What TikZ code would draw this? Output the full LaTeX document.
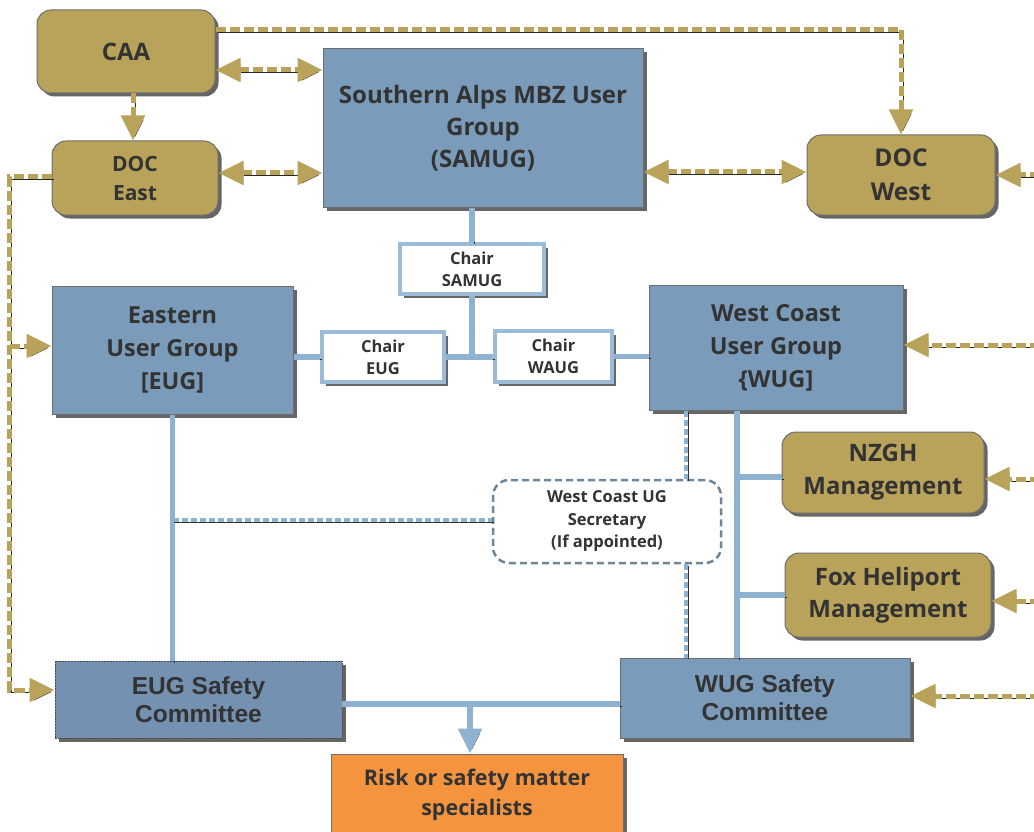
\documentclass[tikz,border=0pt]{standalone}
\usepackage{fontspec}
\setmainfont{Open Sans}
\newfontfamily\arialfont{Liberation Sans}
\usetikzlibrary{arrows.meta,shadows,calc}
\definecolor{gold}{HTML}{B9A25A}
\definecolor{boxblue}{HTML}{7A9BB9}
\definecolor{boxblueb}{HTML}{7591B1}
\definecolor{bline}{HTML}{8EB2CF}
\definecolor{chairb}{HTML}{9BBBD8}
\definecolor{txt}{HTML}{333333}
\definecolor{orangebox}{HTML}{F4943F}
\definecolor{secb}{HTML}{6F8698}
\definecolor{edgegray}{HTML}{6E6E6E}
\begin{document}
\begin{tikzpicture}[x=1pt,y=-1pt,
  boxshadow/.style={drop shadow={shadow xshift=3.5pt,shadow yshift=-3.5pt,opacity=.6,fill=black}},
  fs/.style 2 args={font=\bfseries\fontsize{#1}{#2}\selectfont},
  afs/.style 2 args={font=\arialfont\bfseries\fontsize{#1}{#2}\selectfont},
  goldbox/.style={draw=edgegray,line width=1pt,fill=gold,rounded corners=14pt,boxshadow,text=txt,align=center,inner sep=0pt},
  bluebox/.style={draw=edgegray,line width=1pt,fill=boxblue,boxshadow,text=txt,align=center,inner sep=0pt},
  chairbox/.style={draw=chairb,line width=4.5pt,fill=white,boxshadow,text=txt,align=center,inner sep=0pt},
  secbox/.style={draw=secb,line width=2.5pt,dash pattern=on 7pt off 4pt,rounded corners=16pt,fill=white,text=txt,align=center,inner sep=0pt},
  eugscbox/.style={draw=black!70,line width=0.8pt,dash pattern=on 2pt off 1pt,fill=boxblueb,boxshadow,text=txt,align=center,inner sep=0pt},
  riskbox/.style={draw=edgegray,line width=1pt,fill=orangebox,boxshadow,text=txt,align=center,inner sep=0pt},
  goldline/.style={draw=gold,line width=5pt,dash pattern=on 10pt off 4pt,
    preaction={draw=black!85,transform canvas={xshift=2pt,yshift=-2pt}}},
  goldarrow/.style={goldline,-{Triangle[length=25pt,width=23pt]}},
  golddouble/.style={goldline,{Triangle[length=25pt,width=23pt]}-{Triangle[length=25pt,width=23pt]}},
  blueline/.style={draw=bline,line width=5.5pt,
    preaction={draw=black!85,transform canvas={xshift=2pt,yshift=-2pt}}},
  bluearrow/.style={blueline,-{Triangle[length=25pt,width=23pt]}},
  bluedash/.style={draw=bline,line width=3.5pt,dash pattern=on 6pt off 3pt,
    preaction={draw=black!80,transform canvas={xshift=1.8pt,yshift=-1.8pt}}}
]
\useasboundingbox (0,0) rectangle (1034,832);

% nodes
\node[goldbox,fs={24}{30},minimum width=178pt,minimum height=83pt] (caa) at (126,51.5) {CAA};
\node[goldbox,fs={21}{29},minimum width=166pt,minimum height=74pt] (doce) at (135,178) {DOC\\East};
\node[bluebox,fs={24}{32},minimum width=320pt,minimum height=158pt] (samug) at (483,128) {Southern Alps MBZ User\\Group\\(SAMUG)};
\node[goldbox,fs={24.5}{34},minimum width=188pt,minimum height=80pt] (docw) at (901,175) {DOC\\West};
\node[chairbox,fs={16.5}{22},minimum width=144pt,minimum height=50pt] (csamug) at (472,269) {Chair\\SAMUG};
\node[chairbox,fs={16.5}{22},minimum width=122pt,minimum height=50pt] (ceug) at (383,357) {Chair\\EUG};
\node[chairbox,fs={16.5}{22},minimum width=117pt,minimum height=51pt] (cwaug) at (553.5,356.5) {Chair\\WAUG};
\node[bluebox,fs={23.5}{33},minimum width=241pt,minimum height=128pt] (eug) at (172.5,350) {Eastern\\User Group\\{[EUG]}};
\node[bluebox,fs={23.5}{33},minimum width=254pt,minimum height=125pt] (wug) at (776,347.5) {West Coast\\User Group\\\{WUG]};
\node[goldbox,fs={24}{33},minimum width=202pt,minimum height=81pt] (nzgh) at (883,472.5) {NZGH\\Management};
\node[goldbox,fs={24}{32},minimum width=206pt,minimum height=84pt] (fox) at (888,595) {Fox Heliport\\Management};
\node[secbox,fs={16.5}{22.5},minimum width=228pt,minimum height=83pt] (sec) at (607,521.5) {West Coast UG\\Secretary\\(If appointed)};
\node[eugscbox,afs={24.5}{28},minimum width=287pt,minimum height=77pt] (eugsc) at (198.5,699.5) {EUG Safety\\Committee};
\node[bluebox,afs={24.5}{28},minimum width=290pt,minimum height=80pt] (wugsc) at (765,698) {WUG Safety\\Committee};
\node[riskbox,fs={21.5}{30},minimum width=292pt,minimum height=82pt] (risk) at (477,795) {Risk or safety matter\\specialists};

% helper coordinates
\coordinate (R) at (1040,0);
\coordinate (J) at (csamug.south |- ceug.east);
\coordinate (S) at ([yshift=1.5pt]sec.west);
\coordinate (wx) at ([xshift=-90pt]wug.south);
\coordinate (wb) at ([xshift=-39pt]wug.south);
\coordinate (sl) at ([yshift=-4.5pt]eugsc.east);
\coordinate (rk) at ([xshift=-7pt]risk.north);
\coordinate (nzW) at ([yshift=-4.5pt]nzgh.west);
\coordinate (dwE) at (docw.east);
\coordinate (wuE) at ([yshift=2.5pt]wug.east);
\coordinate (nzE) at ([yshift=-6.5pt]nzgh.east);
\coordinate (fxE) at ([yshift=-6pt]fox.east);
\coordinate (wsE) at ([yshift=2pt]wugsc.east);

% blue solid connectors
\draw[blueline] (csamug.north |- samug.south) -- (csamug.north);
\draw[blueline] (csamug.south) -- (J);
\draw[blueline] (ceug.east) -- (J) -- (J -| cwaug.west);
\draw[blueline] (eug.east |- ceug.west) -- (ceug.west);
\draw[blueline] (cwaug.east) -- (cwaug.east -| wug.west);
\draw[blueline] (eug.south) -- (eug.south |- eugsc.north);
\draw[blueline] (wb) -- (wb |- wugsc.north);
\draw[blueline] (wb |- nzW) -- (nzW);
\draw[blueline] (wb |- fox.west) -- (fox.west);
\draw[blueline] (sl) -- (sl -| wugsc.west);
\draw[bluearrow] (rk |- sl) -- (rk);

% blue dashed connectors
\draw[bluedash] (eug.south |- S) -- (S);
\draw[bluedash] (wx) -- (wx |- sec.north);
\draw[bluedash] (wx |- sec.south) -- (wx |- wugsc.north);

% gold connectors
\draw[goldarrow] ([yshift=21.5pt]caa.east) -| (docw.north);
\draw[golddouble] ([yshift=-18.5pt]caa.east) -- ([yshift=58pt]samug.west);
\draw[goldarrow] ([xshift=7pt]caa.south) -- ([xshift=-2pt]doce.north);
\draw[golddouble] ([yshift=5pt]doce.east) -- ([yshift=-45pt]samug.west);
\draw[golddouble] ([yshift=-44pt]samug.east) -- ([yshift=3pt]docw.west);
\draw[goldarrow] ([yshift=1pt]doce.west) -- ++(-42pt,0) |- ([yshift=9.5pt]eugsc.west);
\draw[goldarrow] ([yshift=4pt,xshift=-42pt]eug.west) -- ([yshift=4pt]eug.west);
\draw[goldarrow] (R |- dwE) -- (dwE);
\draw[goldarrow] (R |- wuE) -- (wuE);
\draw[goldarrow] (R |- nzE) -- (nzE);
\draw[goldarrow] (R |- fxE) -- (fxE);
\draw[goldarrow] (R |- wsE) -- (wsE);
\end{tikzpicture}
\end{document}
